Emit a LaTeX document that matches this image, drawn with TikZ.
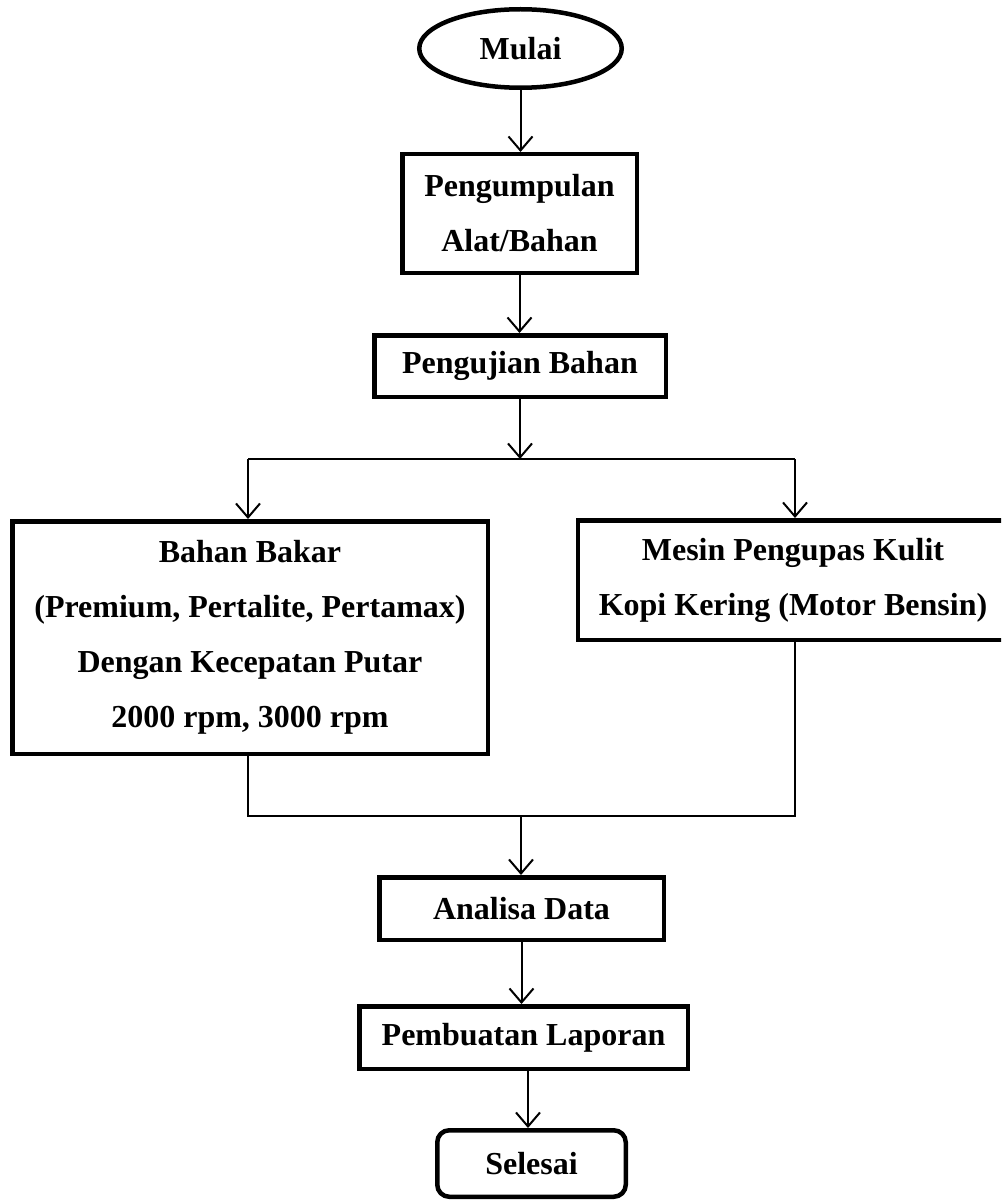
\documentclass[tikz,border=0pt]{standalone}
\usepackage{fontspec}
\setmainfont{Liberation Serif}
\usetikzlibrary{arrows.meta,shapes.geometric}
\begin{document}
\begin{tikzpicture}[x=1pt,y=-1pt,
  box/.style={draw,line width=4.5pt,inner sep=0pt,align=center,font=\bfseries\fontsize{32}{55}\selectfont},
  conn/.style={line width=2pt},
  arr/.style={conn,-{Straight Barb[length=14pt,width=24pt,line width=2pt]}},
]
\useasboundingbox (0,0) rectangle (1001,1201);
\clip (0,0) rectangle (1001,1201);

\node[box,ellipse,minimum width=202.5pt,minimum height=78.5pt] (mulai) at (520.5,48.5) {Mulai};
\node[box,minimum width=234.5pt,minimum height=118.5pt] (kumpul) at (519.5,213.5) {Pengumpulan\\Alat/Bahan};
\node[box,minimum width=291.5pt,minimum height=61.5pt] (uji) at (520,366) {Pengujian Bahan};
\node[box,minimum width=475.5pt,minimum height=232.5pt] (bahan) at (250,637.5) {Bahan Bakar\\(Premium, Pertalite, Pertamax)\\Dengan Kecepatan Putar\\2000 rpm, 3000 rpm};
\node[box,minimum width=430pt,minimum height=119.5pt] (mesin) at (793,580) {Mesin Pengupas Kulit\\Kopi Kering (Motor Bensin)};
\node[box,minimum width=284.5pt,minimum height=62.5pt] (analisa) at (521.5,908.5) {Analisa Data};
\node[box,minimum width=328.5pt,minimum height=62.5pt] (lapor) at (523.5,1037.5) {Pembuatan Laporan};
\node[box,rounded corners=12pt,minimum width=188.5pt,minimum height=66.5pt] (selesai) at (531.5,1163.5) {Selesai};

\coordinate (split) at (520,459);
\coordinate (sl) at (248,459);
\coordinate (sr) at (795,459);
\coordinate (jl) at (248,816);
\coordinate (jr) at (795,816);
\coordinate (jm) at (521,816);
\coordinate (lx) at (528,1037.5);

\draw[arr] (mulai.south) -- (mulai.south |- kumpul.north);
\draw[arr] (kumpul.south) -- (kumpul.south |- uji.north);
\draw[arr] (uji.south) -- (split);
\draw[conn] (sl) -- (sr);
\draw[arr] (sl) -- (sl |- bahan.north);
\draw[arr] (sr) -- (sr |- mesin.north);
\draw[conn] (bahan.south -| jl) -- (jl) -- (jr) -- (mesin.south -| jr);
\draw[arr] (jm) -- (jm |- analisa.north);
\draw[arr] (analisa.south) -- (analisa.south |- lapor.north);
\draw[arr] (lx |- lapor.south) -- (lx |- selesai.north);
\end{tikzpicture}
\end{document}
